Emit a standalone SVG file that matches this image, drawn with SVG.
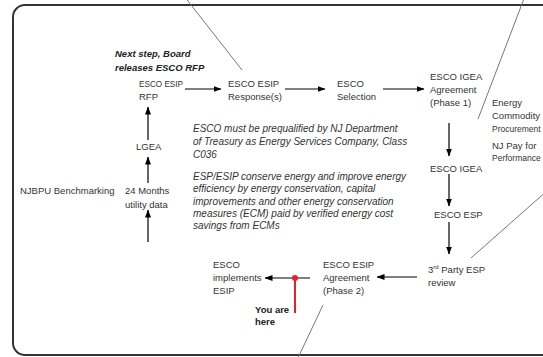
<svg xmlns="http://www.w3.org/2000/svg" width="543" height="357" viewBox="0 0 543 357">
<defs>
<marker id="ah" markerWidth="8" markerHeight="6" refX="7.5" refY="3" orient="auto" markerUnits="userSpaceOnUse">
<path d="M0,0 L8,3 L0,6 Z" fill="#000"/>
</marker>
<style>
text{font-family:"Liberation Sans",Arial,sans-serif;font-size:9.5px;fill:#333}
.it{font-style:italic;font-size:10px}
.bi{font-style:italic;font-weight:bold;fill:#222}
.b{font-weight:bold;fill:#222}
.sm{font-size:8.5px}
.arr{stroke:#000;stroke-width:1.2;fill:none;marker-end:url(#ah)}
.ptr{stroke:#777;stroke-width:1;fill:none}
</style>
</defs>
<rect width="543" height="357" fill="#fff"/>
<rect x="13" y="5" width="600" height="350" rx="12" ry="12" fill="none" stroke="#333" stroke-width="2"/>
<g id="connectors">
<line class="ptr" x1="184" y1="-4" x2="242" y2="70"/>
<line class="ptr" x1="525" y1="-4" x2="478" y2="119"/>
<line class="ptr" x1="548" y1="190" x2="471" y2="258"/>
<line class="ptr" x1="323" y1="305" x2="297" y2="360"/>
<line class="arr" x1="148" y1="242" x2="148" y2="210"/>
<line class="arr" x1="148" y1="183" x2="148" y2="157"/>
<line class="arr" x1="148" y1="140" x2="148" y2="107"/>
<line class="arr" x1="185" y1="89" x2="221" y2="89"/>
<line class="arr" x1="285" y1="89" x2="325" y2="89"/>
<line class="arr" x1="383" y1="89" x2="424" y2="89"/>
<line class="arr" x1="449" y1="123" x2="449" y2="156"/>
<line class="arr" x1="449" y1="174" x2="449" y2="206"/>
<line class="arr" x1="449" y1="222" x2="449" y2="254"/>
<line class="arr" x1="417" y1="277" x2="377" y2="277"/>
<line class="arr" x1="310" y1="278" x2="265" y2="278"/>
<line x1="295" y1="278" x2="295" y2="313" stroke="#e8202a" stroke-width="2"/>
<circle cx="295" cy="278" r="3" fill="#e8202a"/>
</g>
<g id="next-step"><text class="bi" x="115" y="57">Next step, Board</text><text class="bi" x="115" y="71">releases ESCO RFP</text></g>
<g id="njbpu"><text x="20" y="194">NJBPU Benchmarking</text></g>
<g id="utility"><text x="125" y="194">24 Months</text><text x="125" y="208">utility data</text></g>
<g id="lgea"><text x="136" y="150">LGEA</text></g>
<g id="rfp"><text x="139" y="87" textLength="44" lengthAdjust="spacingAndGlyphs">ESCO ESIP</text><text x="139" y="100">RFP</text></g>
<g id="response"><text x="228" y="87">ESCO ESIP</text><text x="228" y="100">Response(s)</text></g>
<g id="selection"><text x="337" y="87">ESCO</text><text x="337" y="100">Selection</text></g>
<g id="igea-agreement"><text x="430" y="80">ESCO IGEA</text><text x="430" y="93">Agreement</text><text x="430" y="106">(Phase 1)</text></g>
<g id="igea"><text x="430" y="172">ESCO IGEA</text></g>
<g id="esp"><text x="434" y="218">ESCO ESP</text></g>
<g id="review"><text x="428" y="273">3<tspan font-size="6" dy="-4">rd</tspan><tspan dy="4"> Party ESP</tspan></text><text x="428" y="286">review</text></g>
<g id="esip-agreement"><text x="323" y="268">ESCO ESIP</text><text x="323" y="281">Agreement</text><text x="323" y="294">(Phase 2)</text></g>
<g id="implements"><text x="213" y="268">ESCO</text><text x="213" y="281">implements</text><text x="213" y="294">ESIP</text></g>
<g id="you-are-here"><text class="b" x="255" y="313">You are</text><text class="b" x="255" y="325">here</text></g>
<g id="energy"><text x="492" y="106">Energy</text><text x="492" y="119">Commodity</text><text class="sm" x="492" y="132">Procurement</text><text x="492" y="149">NJ Pay for</text><text class="sm" x="492" y="161">Performance</text></g>
<g id="notes">
<text class="it" x="193" y="132">ESCO must be prequalified by NJ Department</text>
<text class="it" x="193" y="145">of Treasury as Energy Services Company, Class</text>
<text class="it" x="193" y="158">C036</text>
<text class="it" x="193" y="180">ESP/ESIP conserve energy and improve energy</text>
<text class="it" x="193" y="192.3">efficiency by energy conservation, capital</text>
<text class="it" x="193" y="204.6">improvements and other energy conservation</text>
<text class="it" x="193" y="216.9">measures (ECM) paid by verified energy cost</text>
<text class="it" x="193" y="229.2">savings from ECMs</text>
</g>
</svg>
